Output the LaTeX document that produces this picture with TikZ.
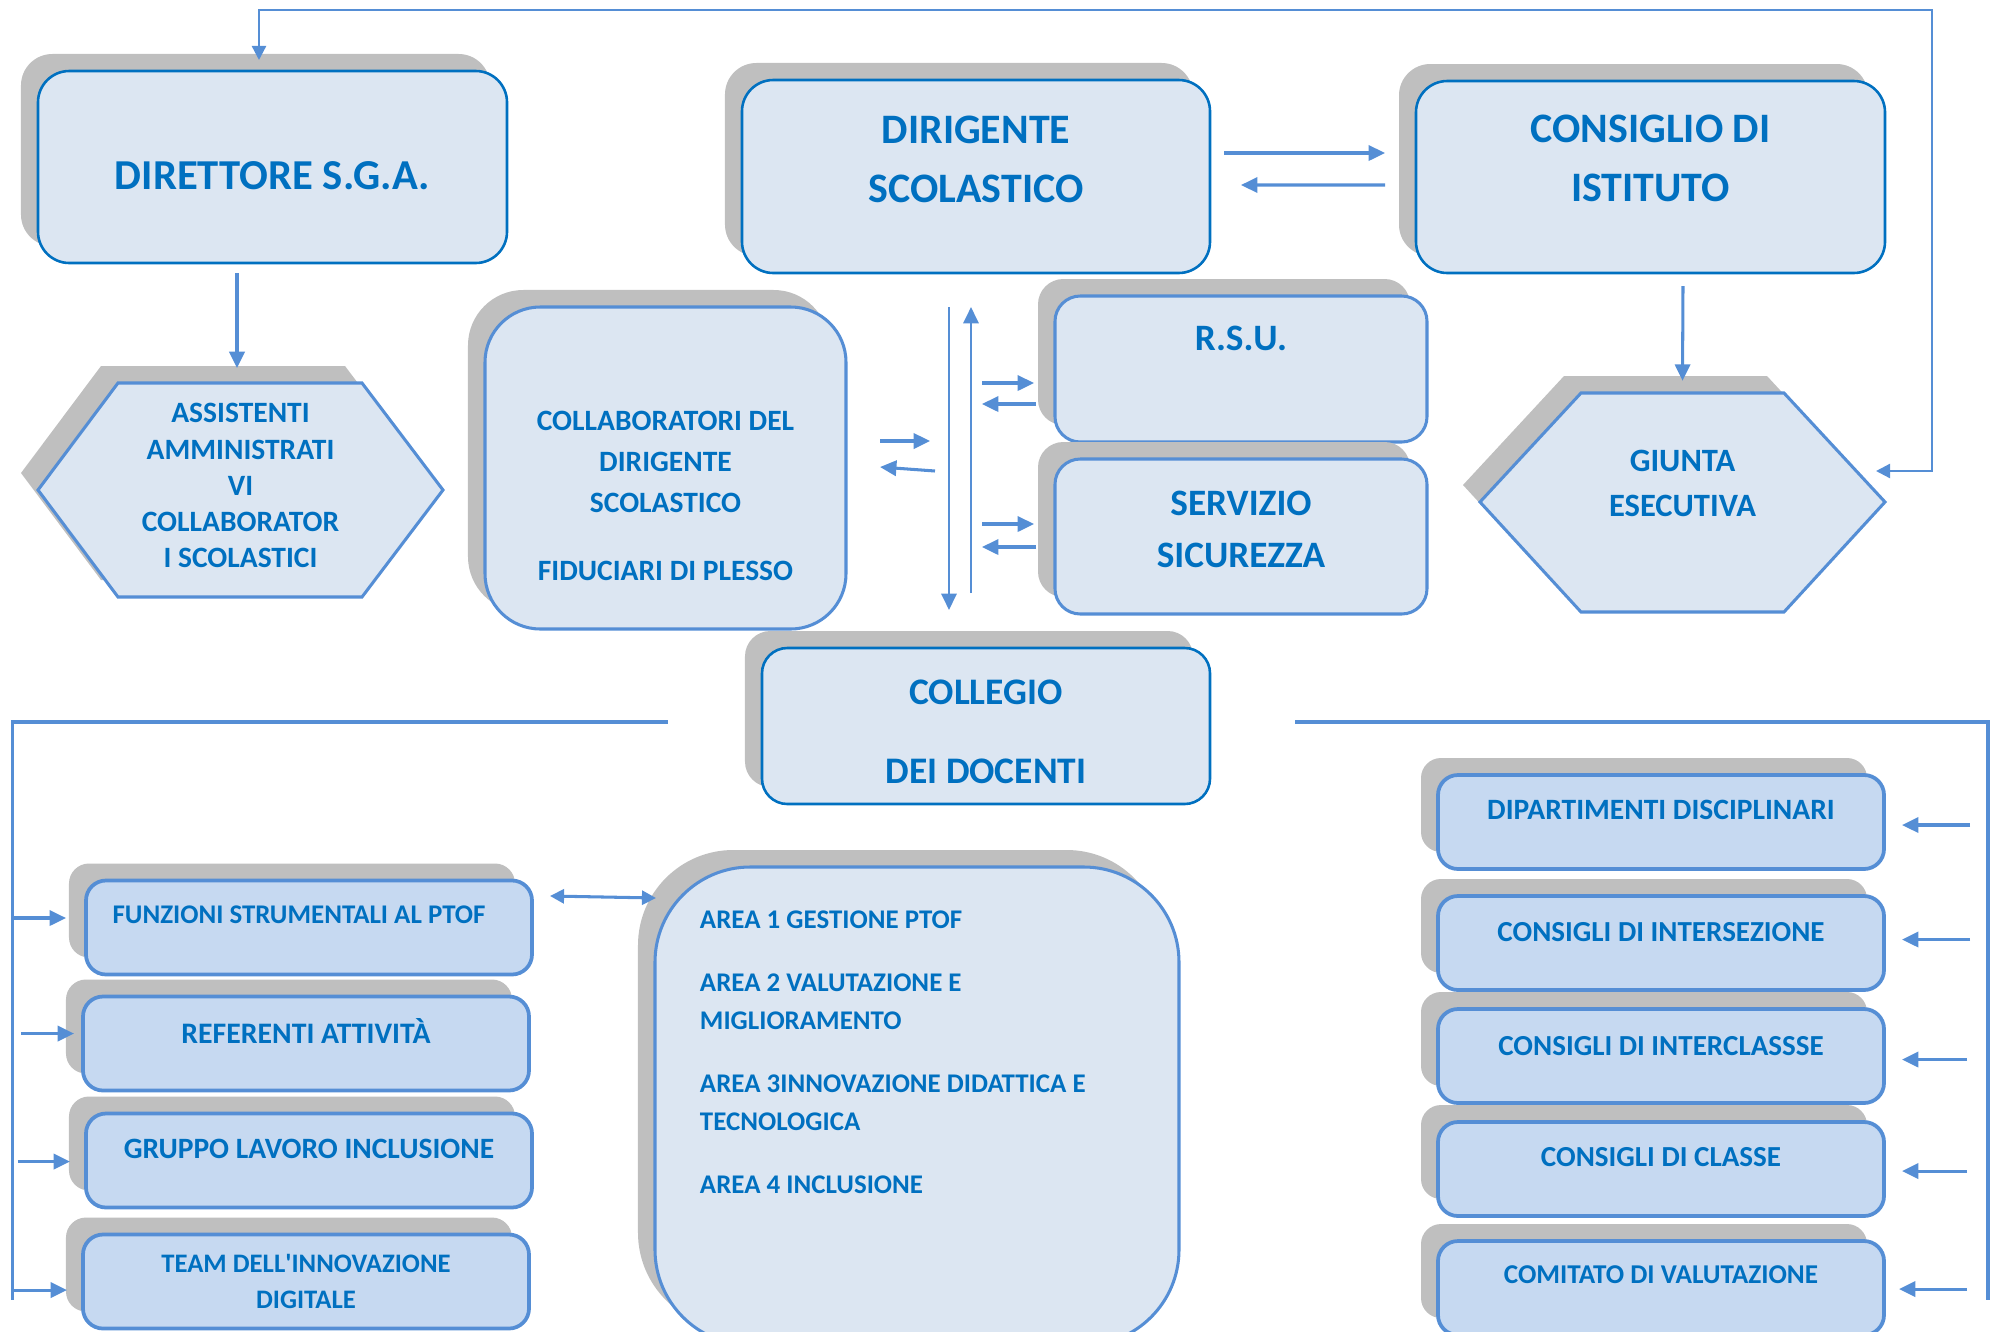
\documentclass[tikz,border=0pt]{standalone}
\usepackage{fontspec}
\setmainfont{Carlito}
\usetikzlibrary{arrows.meta,shadows,calc,positioning}
\definecolor{orgblue}{HTML}{0070C0}
\definecolor{orgline}{HTML}{558ED5}
\definecolor{orgfill}{HTML}{DCE6F2}
\definecolor{orgfillb}{HTML}{C6D9F1}
\definecolor{orgshade}{HTML}{BFBFBF}
\tikzset{
    boxshadow/.style={drop shadow={shadow xshift=-0.255cm, shadow yshift=0.255cm, fill=orgshade, opacity=1}},
    topbox/.style={draw=orgblue, fill=orgfill, line width=1.1pt, rounded corners=0.47cm, boxshadow, text=orgblue, align=center, inner sep=0pt, outer sep=0pt, font=\bfseries\fontsize{17.9}{25.2}\selectfont},
    midbox/.style={draw=orgline, fill=orgfill, line width=1.3pt, rounded corners=0.38cm, boxshadow, text=orgblue, align=center, inner sep=0pt, outer sep=0pt},
    smallbox/.style={draw=orgline, fill=orgfillb, line width=1.6pt, rounded corners=0.3cm, boxshadow, text=orgblue, inner sep=0pt, outer sep=0pt, minimum width=6.69cm, minimum height=1.41cm, font=\bfseries\fontsize{#1}{15.4}\selectfont},
    smallbox/.default=12.4,
    hexline/.style={draw=orgline, fill=orgfill, line width=1.3pt},
    hexshade/.style={fill=orgshade},
    hextext/.style={text=orgblue, align=center, inner sep=0pt},
    link/.style={-{Triangle[length=7pt, width=6.5pt]}, orgline, line width=1.3pt},
    twolink/.style={{Triangle[length=6pt, width=6pt]}-{Triangle[length=6pt, width=6pt]}, orgline, line width=1.3pt},
    thinlink/.style={{Triangle[length=6pt, width=6pt]}-{Triangle[length=6pt, width=6pt]}, orgline, line width=1pt},
    bus/.style={orgline, line width=1.4pt}
}
\begin{document}
\begin{tikzpicture}[x=0.015cm, y=-0.015cm]
    \useasboundingbox (0,0) rectangle (1998,1332);

    % upper level
    \node[topbox, minimum width=7.035cm, minimum height=2.88cm, text height=0.675cm, font=\bfseries\fontsize{18.2}{25.2}\selectfont] (dsga) at (272.5,167) {DIRETTORE S.G.A.};
    \node[topbox, minimum width=7.02cm, minimum height=2.895cm, text depth=0.51cm] (ds) at (976,176.5) {DIRIGENTE\\SCOLASTICO};
    \node[topbox, minimum width=7.035cm, minimum height=2.88cm, text depth=0.555cm] (ci) at (1650.5,177) {CONSIGLIO DI\\ISTITUTO};

    % hexagons
    \fill[hexshade, shift={(-17,-17)}] (118,383) -- (362,383) -- (443,490) -- (362,597) -- (118,597) -- (38,490) -- cycle;
    \draw[hexline] (118,383) -- (362,383) -- (443,490) -- (362,597) -- (118,597) -- (38,490) -- cycle;
    \node[hextext, font=\bfseries\fontsize{12.6}{15.4}\selectfont] (ata) at (240.5,485.5) {ASSISTENTI\\AMMINISTRATI\\VI\\COLLABORATOR\\I SCOLASTICI};
    \fill[hexshade, shift={(-17,-17)}] (1581,393) -- (1784,393) -- (1885,502) -- (1784,612) -- (1581,612) -- (1480,502) -- cycle;
    \draw[hexline] (1581,393) -- (1784,393) -- (1885,502) -- (1784,612) -- (1581,612) -- (1480,502) -- cycle;
    \node[hextext, font=\bfseries\fontsize{13.9}{19.2}\selectfont] (giunta) at (1682.5,483.5) {GIUNTA\\ESECUTIVA};

    % middle level
    \node[midbox, minimum width=5.415cm, minimum height=4.83cm, rounded corners=0.83cm, text height=3.375cm, font=\bfseries\fontsize{12.6}{17.5}\selectfont] (collab) at (665.5,468) {COLLABORATORI DEL\\DIRIGENTE\\SCOLASTICO\\[11.5pt]FIDUCIARI DI PLESSO};
    \node[midbox, minimum width=5.58cm, minimum height=2.19cm, text depth=0.93cm, font=\bfseries\fontsize{15.9}{20}\selectfont] (rsu) at (1241,369) {R.S.U.};
    \node[midbox, minimum width=5.58cm, minimum height=2.325cm, text depth=0.225cm, font=\bfseries\fontsize{15.9}{22.2}\selectfont] (sic) at (1241,536.5) {SERVIZIO\\SICUREZZA};
    \node[topbox, minimum width=6.72cm, minimum height=2.34cm, rounded corners=0.38cm, text height=1.725cm, font=\bfseries\fontsize{16}{33.7}\selectfont] (collegio) at (986,726) {COLLEGIO\\DEI DOCENTI};
    \node[midbox, minimum width=7.86cm, minimum height=7.17cm, rounded corners=1.43cm, text width=6.51cm, align=flush left, text depth=5.58cm, font=\bfseries\fontsize{11.5}{16.2}\selectfont] (area) at (917,1106) {AREA 1 GESTIONE PTOF\\[10.7pt]AREA 2 VALUTAZIONE E\\MIGLIORAMENTO\\[10.7pt]AREA 3INNOVAZIONE DIDATTICA E\\TECNOLOGICA\\[10.7pt]AREA 4 INCLUSIONE};

    % lower level, left
    \node[smallbox=11.5, text depth=0.375cm] (funz) at (309,927.5) {FUNZIONI STRUMENTALI AL PTOF\kern0.3cm};
    \node[smallbox=12.7, below=0.33cm of funz, xshift=-0.045cm, text depth=0.39cm] (ref) {REFERENTI ATTIVITÀ};
    \node[smallbox=12.6, below=0.345cm of ref, xshift=0.045cm, text depth=0.36cm] (glis) {GRUPPO LAVORO INCLUSIONE};
    \node[smallbox=11.4, below=0.405cm of glis, xshift=-0.045cm, align=center] (team) {TEAM DELL\textquotesingle INNOVAZIONE\\DIGITALE};

    % lower level, right
    \node[smallbox=12.6, text depth=0.36cm] (dip) at (1661,822) {DIPARTIMENTI DISCIPLINARI};
    \node[smallbox, below=0.405cm of dip, text depth=0.345cm] (cinters) {CONSIGLI DI INTERSEZIONE};
    \node[smallbox, below=0.285cm of cinters, text depth=0.315cm] (cintercl) {CONSIGLI DI INTERCLASSSE};
    \node[smallbox, below=0.285cm of cintercl, text depth=0.36cm] (ccl) {CONSIGLI DI CLASSE};
    \node[smallbox=11.6, below=0.375cm of ccl, text depth=0.39cm] (comval) {COMITATO DI VALUTAZIONE};

    % connectors
    \draw[thinlink] ($(giunta)+(193.5,-12.5)$) -- ++(56,0) |- ($(dsga.north)+(-13.5,-61)$) -- ($(dsga.north)+(-13.5,-11)$);
    \draw[link] ($(dsga.south)+(-35.5,10)$) -- ($(ata.north)+(-3.5,-35)$);
    \draw[link] ($(ds.east)+(14,-23.5)$) -- ($(ci.west)+(-31,-24)$);
    \draw[link] ($(ci.west)+(-31,8)$) -- ($(ds.east)+(31,8.5)$);
    \draw[link] ($(ci.south)+(32.5,13)$) -- ($(giunta.north)+(0,-69)$);
    \draw[link] ($(collab.east)+(34,-27)$) -- ++(50,0);
    \draw[link] ($(collab.east)+(89,3)$) -- ($(collab.east)+(34,-1)$);
    \draw[link, line width=1.1pt] ($(ds.south)+(-27,34)$) -- ($(collegio.north)+(-37,-38)$);
    \draw[link, line width=1.1pt] ($(collegio.north)+(-15,-55)$) -- ($(ds.south)+(-5,34)$);
    \draw[link] ($(rsu.west)+(-73,14)$) -- ($(rsu.west)+(-21,14)$);
    \draw[link] ($(rsu.west)+(-19,35)$) -- ($(rsu.west)+(-73,35)$);
    \draw[link] ($(sic.west)+(-73,-12.5)$) -- ($(sic.west)+(-21,-12.5)$);
    \draw[link] ($(sic.west)+(-19,10.5)$) -- ($(sic.west)+(-73,10.5)$);

    % collegio to the lower groups
    \coordinate (lbus) at (12.5,1300);
    \coordinate (rbus) at (1988,1300);
    \draw[bus] ($(collegio.west)+(-94,-4)$) -| (lbus);
    \draw[bus] ($(collegio.east)+(85,-4)$) -| (rbus);
    \draw[link] ($(funz.west)+(-73.5,-9.5)$) -- ($(funz.west)+(-20,-9.5)$);
    \draw[link] ($(ref.west)+(-62,-10)$) -- ($(ref.west)+(-9,-10)$);
    \draw[link] ($(glis.west)+(-68,1)$) -- ($(glis.west)+(-16,1)$);
    \draw[link] ($(team.west)+(-70.5,8.5)$) -- ($(team.west)+(-16,8.5)$);
    \draw[link] ($(dip.east)+(86,3)$) -- ($(dip.east)+(18,3)$);
    \draw[link] ($(cinters.east)+(86,-3.5)$) -- ($(cinters.east)+(18,-3.5)$);
    \draw[link] ($(cintercl.east)+(83,3.5)$) -- ($(cintercl.east)+(18,3.5)$);
    \draw[link] ($(ccl.east)+(83,2)$) -- ($(ccl.east)+(18,2)$);
    \draw[link] ($(comval.east)+(83,1)$) -- ($(comval.east)+(15,1)$);
    \draw[twolink] ($(funz.east)+(18,-31.5)$) -- ($(area.west)+(1,-208)$);
\end{tikzpicture}
\end{document}
